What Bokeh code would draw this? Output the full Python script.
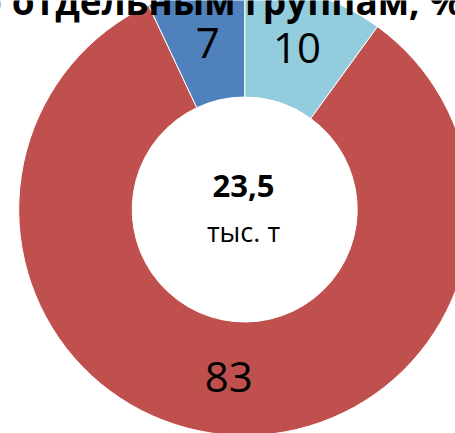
import numpy as np
from bokeh.plotting import figure
from bokeh.models import Range1d, ColumnDataSource
from bokeh.core.properties import value
from bokeh.embed import file_html
from bokeh.resources import INLINE

# Data
groups = ["Группа 1", "Группа 2", "Группа 3"]
shares = [10, 83, 7]
colors = ["#93CDDD", "#C0504D", "#4F81BD"]
total_value = "23,5"
total_unit = "тыс. т"
title_text = "по отдельным группам, %"

# Layout (pixel coordinates, y negated)
CX, CY = 244.2, -209.0
R_IN, R_OUT = 112.5, 226.0
W, H = 455, 433

p = figure(width=W, height=H, output_backend="svg", toolbar_location=None,
           x_range=Range1d(0, W), y_range=Range1d(-H, 0),
           min_border=0, background_fill_color="white", border_fill_color="white")
p.axis.visible = False
p.grid.visible = False
p.outline_line_color = None

frac = np.array(shares, dtype=float) / sum(shares)
cum_end = np.cumsum(frac)
cum_start = cum_end - frac
start = np.pi / 2 - cum_end * 2 * np.pi
end = np.pi / 2 - cum_start * 2 * np.pi
mid = (start + end) / 2
r_mid = (R_IN + R_OUT) / 2

src = ColumnDataSource(dict(
    group=groups, share=shares, color=colors, start=start, end=end,
    lx=CX + r_mid * np.cos(mid), ly=CY + r_mid * np.sin(mid) + 1,
    label=[str(s) for s in shares],
))

p.annular_wedge(x=CX, y=CY, inner_radius=R_IN, outer_radius=R_OUT,
                start_angle="start", end_angle="end", fill_color="color",
                line_color="white", line_width=1, source=src)

p.text(x="lx", y="ly", text="label", source=src, text_align="center",
       text_baseline="middle", text_font=value("Open Sans"),
       text_font_size="42px", text_color="black")

p.text(x=[243], y=[-185], text=[total_value], text_align="center",
       text_baseline="middle", text_font=value("Open Sans"),
       text_font_style="bold", text_font_size="31px", text_color="black")
p.text(x=[243], y=[-231], text=[total_unit], text_align="center",
       text_baseline="middle", text_font=value("Open Sans"),
       text_font_size="27px", text_color="black")

# cut-off chart title at the top
p.text(x=[462], y=[0], text=[title_text], text_align="right",
       text_baseline="alphabetic", text_font=value("Open Sans"),
       text_font_style="bold", text_font_size="37px", text_color="black")

open("out.html", "w").write(file_html(p, INLINE))
